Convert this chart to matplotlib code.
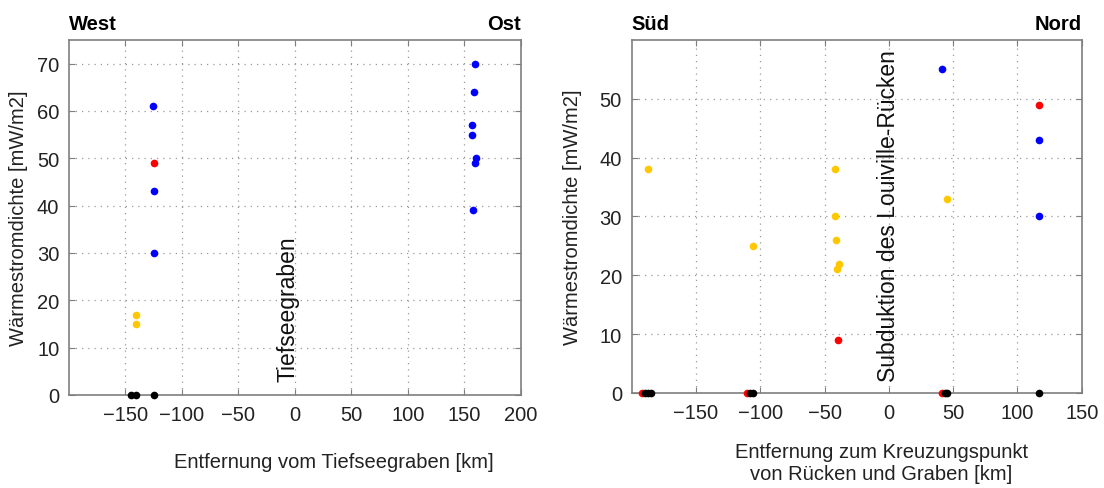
import matplotlib
matplotlib.use("Agg")
from matplotlib import pyplot as plt

plt.rcParams['font.family'] = ['Liberation Sans', 'DejaVu Sans']

BLUE = (0, 0, 1)
RED = (1, 0, 0)
YELLOW = (1, 0.78, 0)
BLACK = (0, 0, 0)

#%% Profil West-Ost (Entfernung vom Tiefseegraben)
west_blue_x = [-126, -125, -125, 159, 158, 157, 156.5, 160, 159, 157.7]
west_blue_y = [61, 43, 30, 70, 64, 57, 55, 50, 49, 39]
west_red_x = [-125]
west_red_y = [49]
west_yellow_x = [-140.5, -140.5]
west_yellow_y = [17, 15]
west_black_x = [-145, -141, -125]
west_black_y = [0, 0, 0]

#%% Profil Sued-Nord (Kreuzungspunkt Ruecken/Graben)
sued_blue_x = [41, 116.5, 116.5]
sued_blue_y = [55, 43, 30]
sued_red_x = [116.5, -39.7, -192, -110, 41]
sued_red_y = [49, 9, 0, 0, 0]
sued_yellow_x = [-187.5, -41.8, -42, -41.3, -39.1, -40.7, -105.4, 45]
sued_yellow_y = [38, 38, 30, 26, 22, 21, 25, 33]
sued_black_x = [-190, -187, -185, -108, -106, 44, 45, 117]
sued_black_y = [0, 0, 0, 0, 0, 0, 0, 0]

ticks_west_x = [-150, -100, -50, 0, 50, 100, 150, 200]
ticks_west_y = [0, 10, 20, 30, 40, 50, 60, 70]
ticks_sued_x = [-150, -100, -50, 0, 50, 100, 150]
ticks_sued_y = [0, 10, 20, 30, 40, 50]

FS = 14.5
MS = 5.5

fig = plt.figure(figsize=(11.04, 4.89), dpi=100)
ax1 = fig.add_axes([0.0625, 0.1902, 0.4094, 0.7260])
ax2 = fig.add_axes([0.5722, 0.1943, 0.4076, 0.7219])


def style(ax, xticks, yticks, xlim, ylim):
    ax.set_xlim(*xlim)
    ax.set_ylim(*ylim)
    ax.set_xticks(xticks)
    ax.set_yticks(yticks)
    ax.set_xticklabels([str(t).replace('-', '\u2212') for t in xticks])
    ax.grid(True, linestyle=(0, (1, 4)), color='#9a9a9a', linewidth=0.9)
    ax.set_axisbelow(True)
    for s in ax.spines.values():
        s.set_color('#7f7f7f')
        s.set_linewidth(1.2)
    ax.tick_params(direction='in', length=4, width=0.8, color='#7f7f7f',
                   top=True, right=True, labelsize=FS, labelcolor='#222222',
                   pad=7)


def dots(ax, x, y, c):
    ax.plot(x, y, 'o', color=c, markersize=MS, markeredgewidth=0,
            clip_on=False, zorder=3)


style(ax1, ticks_west_x, ticks_west_y, (-200, 200), (0, 75))
dots(ax1, west_blue_x, west_blue_y, BLUE)
dots(ax1, west_red_x, west_red_y, RED)
dots(ax1, west_yellow_x, west_yellow_y, YELLOW)
dots(ax1, west_black_x, west_black_y, BLACK)
ax1.text(-6.5, 3, 'Tiefseegraben', rotation=90, ha='center', va='bottom',
         fontsize=16.5, color='#111111')
ax1.set_title('West', loc='left', fontweight='bold', fontsize=FS, pad=8)
ax1.set_title('Ost', loc='right', fontweight='bold', fontsize=FS, pad=8)
ax1.set_ylabel('Wärmestromdichte [mW/m2]', fontsize=FS, color='#222222')
ax1.yaxis.set_label_coords(-0.09, 0.5)
ax1.set_xlabel('Entfernung vom Tiefseegraben [km]', fontsize=FS,
               color='#222222')
ax1.xaxis.set_label_coords(0.585, -0.16)

style(ax2, ticks_sued_x, ticks_sued_y, (-200, 150), (0, 60))
dots(ax2, sued_blue_x, sued_blue_y, BLUE)
dots(ax2, sued_red_x, sued_red_y, RED)
dots(ax2, sued_yellow_x, sued_yellow_y, YELLOW)
dots(ax2, sued_black_x, sued_black_y, BLACK)
ax2.text(0, 2, 'Subduktion des Louiville-Rücken', rotation=90, ha='center',
         va='bottom', fontsize=16.5, color='#111111')
ax2.set_title('Süd', loc='left', fontweight='bold', fontsize=FS, pad=8)
ax2.set_title('Nord', loc='right', fontweight='bold', fontsize=FS, pad=8)
ax2.set_ylabel('Wärmestromdichte [mW/m2]', fontsize=FS, color='#222222')
ax2.yaxis.set_label_coords(-0.11, 0.5)
ax2.set_xlabel('Entfernung zum Kreuzungspunkt\nvon Rücken und Graben [km]',
               fontsize=FS, color='#222222', linespacing=1.15)
ax2.xaxis.set_label_coords(0.555, -0.14)

plt.savefig('out.png', dpi=100)
